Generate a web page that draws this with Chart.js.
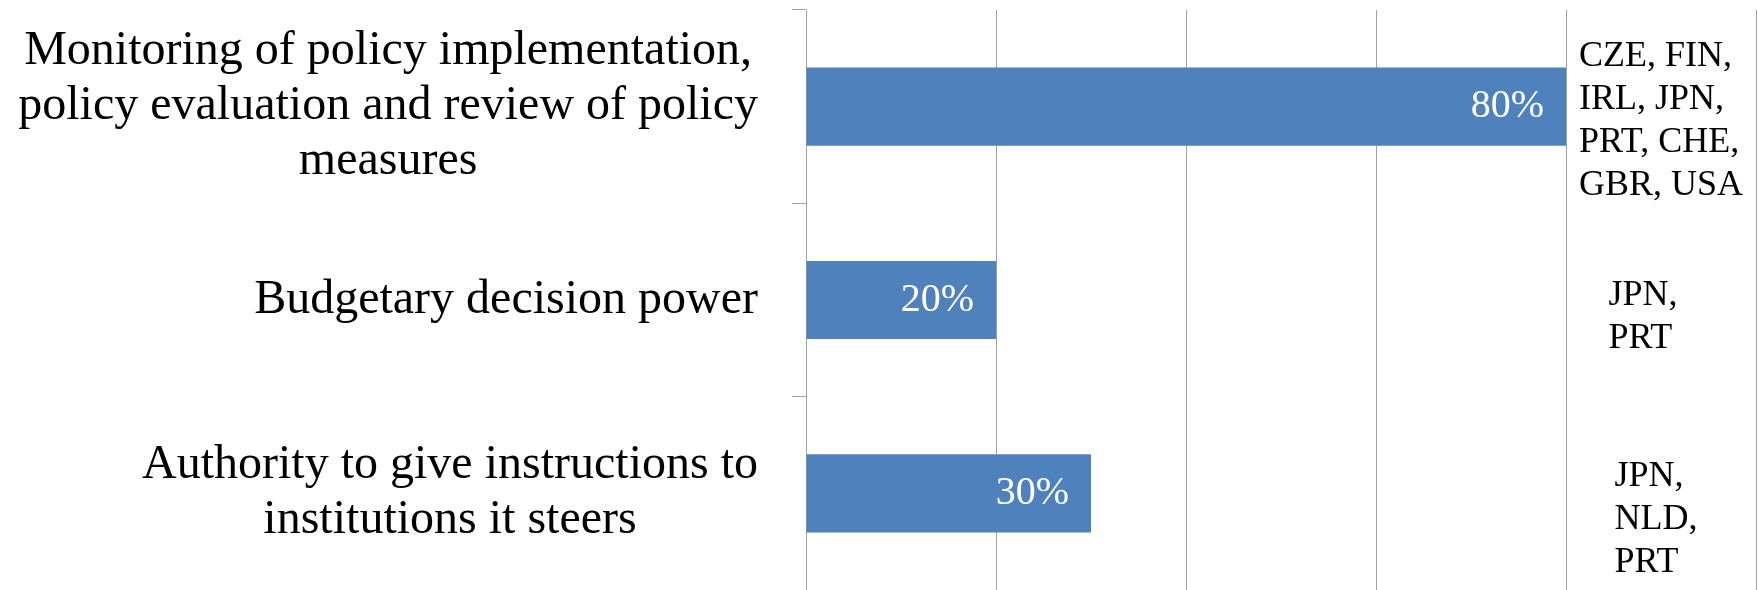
<!DOCTYPE html>
<html>
<head>
<meta charset="utf-8">
<script src="https://cdn.jsdelivr.net/npm/chart.js@4/dist/chart.umd.min.js"></script>
<style>
  html, body { margin: 0; padding: 0; background: #fff; }
  canvas { display: block; }
</style>
</head>
<body>
<canvas id="chart" width="1758" height="590"></canvas>
<script>
const categories = [
  ['Monitoring of policy implementation,', 'policy evaluation and review of policy', 'measures'],
  ['Budgetary decision power'],
  ['Authority to give instructions to', 'institutions it steers'],
]

const shares = [80, 20, 30]

const countries = [
  ['CZE, FIN,', 'IRL, JPN,', 'PRT, CHE,', 'GBR, USA'],
  ['JPN,', 'PRT'],
  ['JPN,', 'NLD,', 'PRT'],
]

const xTicks = [0, 20, 40, 60, 80, 100]

const SERIF = '"Liberation Serif", "Times New Roman", serif'
const GRID = '#a0a0a0'
const BAR = '#4f81bd'
// small nudges of the country notes (px)
const NOTE_NUDGE_Y = [14, 17, 26]
const NOTE_NUDGE_X = [0, -18, -5]

const labelPlugin = {
  id: 'excelLabels',
  afterDatasetsDraw(chart) {
    const ctx = chart.ctx
    const meta = chart.getDatasetMeta(0)
    ctx.save()
    ctx.font = `40px ${SERIF}`
    ctx.fillStyle = '#fff'
    ctx.textAlign = 'right'
    ctx.textBaseline = 'middle'
    meta.data.forEach((bar, i) => {
      ctx.fillText(`${shares[i]}%`, bar.x - 22, bar.y)
    })
    ctx.restore()
  },
  afterDraw(chart) {
    const ctx = chart.ctx
    const xScale = chart.scales.x
    const yScale = chart.scales.y
    ctx.save()
    ctx.fillStyle = '#000'
    ctx.textBaseline = 'middle'

    // category labels: block right-aligned to the axis, lines centred in the block
    ctx.font = `48px ${SERIF}`
    ctx.textAlign = 'center'
    categories.forEach((lines, i) => {
      const cy = yScale.getPixelForValue(i)
      const widest = Math.max(...lines.map((l) => ctx.measureText(l).width))
      const cx = yScale.right - 48 - widest / 2
      lines.forEach((line, j) => {
        ctx.fillText(line, cx, cy + (j - (lines.length - 1) / 2) * 55)
      })
    })

    // country notes in the 80-100% column
    ctx.font = `36px ${SERIF}`
    ctx.textAlign = 'left'
    countries.forEach((lines, i) => {
      const cy = yScale.getPixelForValue(i) + NOTE_NUDGE_Y[i]
      const widest = Math.max(...lines.map((l) => ctx.measureText(l).width))
      const left = xScale.getPixelForValue(90) - widest / 2 + NOTE_NUDGE_X[i]
      lines.forEach((line, j) => {
        ctx.fillText(line, left, cy + (j - (lines.length - 1) / 2) * 43)
      })
    })
    ctx.restore()
  },
}

new Chart(document.getElementById('chart'), {
  type: 'bar',
  data: {
    labels: categories,
    datasets: [
      {
        data: shares,
        backgroundColor: BAR,
        borderWidth: 0,
        barPercentage: 0.404,
        categoryPercentage: 1,
      },
    ],
  },
  options: {
    indexAxis: 'y',
    responsive: false,
    animation: false,
    devicePixelRatio: 1,
    layout: { padding: { top: 10, right: 2, bottom: 0, left: 0 } },
    plugins: {
      legend: { display: false },
      tooltip: { enabled: false },
    },
    scales: {
      x: {
        min: 0,
        max: 100,
        afterBuildTicks(scale) {
          scale.ticks = xTicks.map((value) => ({ value }))
        },
        ticks: { display: false },
        grid: { color: GRID, lineWidth: 1, drawTicks: false },
        border: { display: false },
        afterFit(scale) {
          scale.height = 0
        },
      },
      y: {
        ticks: { display: false },
        grid: {
          drawOnChartArea: false,
          drawTicks: true,
          tickLength: 14,
          color: GRID,
          offset: true,
        },
        border: { display: true, color: GRID, width: 1 },
        afterFit(scale) {
          scale.width = 806
        },
      },
    },
  },
  plugins: [labelPlugin],
})
</script>
</body>
</html>
